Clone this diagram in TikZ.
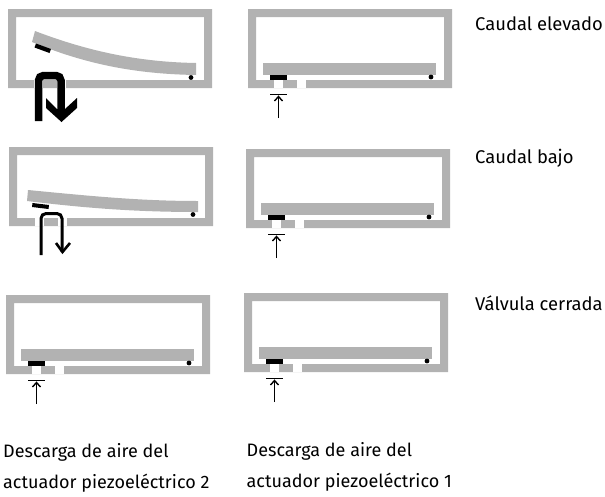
\documentclass[tikz,border=0pt]{standalone}
\usepackage{fontspec}
\setmainfont{Fira Sans}
\definecolor{wallgray}{HTML}{B2B2B2}
\tikzset{
  x=1pt,y=-1pt,
  wall/.style={fill=wallgray,draw=none},
  gapcut/.style={fill=white,draw=none},
  flapblack/.style={fill=black,draw=none},
  lab/.style={anchor=base west,font=\fontsize{18}{18}\selectfont,inner sep=0pt,text=black},
  sidelab/.style={lab,font=\fontsize{18.4}{18.4}\selectfont}
}
% housing: origin is the outer top-left corner
\newcommand{\housing}[2]{%
  \begin{scope}[shift={(#1,#2)}]
    \path[wall,even odd rule] (0,0) rectangle (204,79) (8,8) rectangle (196,71);
    \path[gapcut] (26,71) rectangle (35,79);
    \path[gapcut] (49,71) rectangle (58,79);
  \end{scope}}
% closed valve: straight beam, seat, pivot, small arrow with a stop line
\newcommand{\closedvalve}[3]{%
  \housing{#1}{#2}
  \begin{scope}[shift={(#1,#2)}]
    \path[wall] (15,54) rectangle (188,66);
    \path[flapblack] (22,66) rectangle (39,71);
    \fill[black] (183,68) circle (2.4);
    \coordinate (#3a) at (22,85.5);
    \coordinate (#3b) at (39,85.5);
    \coordinate (#3c) at (30.5,109);
    \coordinate (#3d) at (30.5,86.5);
    \draw[black,line width=1.3pt] (#3a) -- (#3b);
    \draw[black,line width=1.6pt] (#3c) -- (#3d);
    \draw[black,line width=1.4pt] (26.5,92) -- (30.5,87.5) -- (34.5,92);
  \end{scope}}
\begin{document}
\begin{tikzpicture}
\useasboundingbox (0,0) rectangle (605,496);
% --- row 1 left
\housing{8}{9}
\path[wall] (35,31) .. controls (90,52) and (140,62) .. (196,63) -- (196,75) .. controls (135,74) and (85,64) .. (32,42) -- cycle;
\path[flapblack] (36,43.5) -- (51,49) -- (49.5,53) -- (34.5,47.5) -- cycle;
\fill[black] (191,77.5) circle (2.4);
\draw[black,line width=7.5pt,rounded corners=5pt] (38.5,121) -- (38.5,75.5) -- (61,75.5) -- (61,110);
\path[fill=black] (46,98) -- (57,109) -- (65,109) -- (77,98) -- (77,108) -- (61.5,122) -- (46,108) -- cycle;
% --- row 1 right
\closedvalve{248}{9}{A}
% --- row 2 left
\housing{9}{147}
\path[wall] (28,190) .. controls (90,196) and (140,201) .. (198,201) -- (198,212) .. controls (135,212) and (85,208) .. (27,201) -- cycle;
\path[flapblack] (32.5,203) -- (49,205) -- (48.5,209) -- (32,207) -- cycle;
\fill[black] (193,214.5) circle (2.4);
\draw[black,line width=3pt,rounded corners=5pt] (41,255) -- (41,213.5) -- (62,213.5) -- (62,252);
\draw[black,line width=2.6pt] (56,243) -- (62.5,252) -- (70,243);
% --- row 2 right
\closedvalve{246}{149}{B}
% --- row 3
\closedvalve{6}{295}{C}
\closedvalve{244}{293}{D}
% --- labels
\node[sidelab] (t1) at (475,30) {Caudal elevado};
\node[sidelab] (t2) at (475,163) {Caudal bajo};
\node[sidelab] (t3) at (475,310) {Válvula cerrada};
\node[lab] (t4) at (3,457) {Descarga de aire del};
\node[lab] (t5) at (3,488) {actuador piezoeléctrico 2};
\node[lab] (t6) at (246.5,456) {Descarga de aire del};
\node[lab] (t7) at (246.5,487) {actuador piezoeléctrico 1};
\end{tikzpicture}
\end{document}
